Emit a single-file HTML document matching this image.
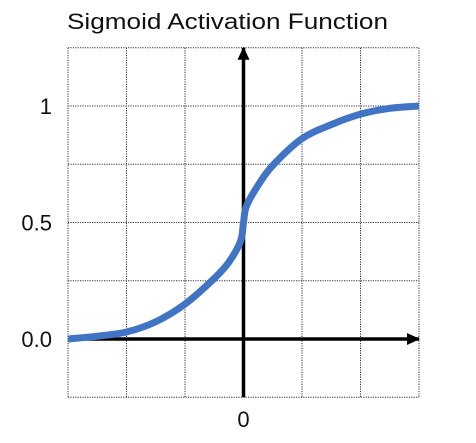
<!DOCTYPE html>
<html><head><meta charset="utf-8"><style>
html,body{margin:0;padding:0;background:#fff;width:476px;height:443px;overflow:hidden}
svg{display:block;font-family:"Liberation Sans",sans-serif}
</style></head><body>
<svg id="chart" width="476" height="443" viewBox="0 0 476 443">
<defs>
<marker id="ah2" markerWidth="14" markerHeight="14" refX="12" refY="6" orient="auto" markerUnits="userSpaceOnUse"><path d="M0,0 L13,6 L0,12 z" fill="#000"/></marker></defs>
<text x="67" y="29" font-size="22" textLength="321" lengthAdjust="spacingAndGlyphs" fill="#111">Sigmoid Activation Function</text>
<g id="grid"></g>
<g id="labels"></g>
<g id="axes"></g>
<path id="curve" fill="none" stroke="#4174C4" stroke-width="7" stroke-linecap="butt" stroke-linejoin="round"/>
</svg>
<script>
const xVals=[-3,-2.5,-2,-1.5,-1,-0.5,-0.25,-0.05,0,0.05,0.25,0.5,1,1.5,2,2.5,3];
const yVals=[0,0.012,0.03,0.074,0.15,0.26,0.33,0.42,0.5,0.57,0.66,0.745,0.86,0.92,0.965,0.99,1.0];
const xTicks=[-3,-2,-1,0,1,2,3];
const yTicks=[-0.25,0,0.25,0.5,0.75,1,1.25];
const yLabelVals=[0,0.5,1];
const yLabelText=["0.0","0.5","1"];
const xLabelVals=[0];
const xLabelText=["0"];
const X0=68,X1=419,Y0=339,Y1=106;
const sx=v=>X0+(v+3)/6*(X1-X0);
const sy=v=>Y0-v*(Y0-Y1);
const NS="http://www.w3.org/2000/svg";
const g=document.getElementById('grid');
xTicks.forEach(t=>{const l=document.createElementNS(NS,'line');


l.setAttribute('x1',sx(t));l.setAttribute('x2',sx(t));l.setAttribute('y1',sy(1.25));l.setAttribute('y2',sy(-0.25));
l.setAttribute('stroke','#333');l.setAttribute('stroke-width','1');l.setAttribute('stroke-dasharray','1.2,1.2');g.appendChild(l);});
yTicks.forEach(t=>{const l=document.createElementNS(NS,'line');


l.setAttribute('y1',sy(t));l.setAttribute('y2',sy(t));l.setAttribute('x1',sx(-3));l.setAttribute('x2',sx(3));
l.setAttribute('stroke','#333');l.setAttribute('stroke-width','1');l.setAttribute('stroke-dasharray','1.2,1.2');g.appendChild(l);});
const lb=document.getElementById('labels');
yLabelVals.forEach((v,i)=>{const t=document.createElementNS(NS,'text');


t.setAttribute('x',52);t.setAttribute('y',sy(v)+8);t.setAttribute('text-anchor','end');t.setAttribute('font-size','22');t.setAttribute('fill','#111');
t.textContent=yLabelText[i];lb.appendChild(t);});
xLabelVals.forEach((v,i)=>{const t=document.createElementNS(NS,'text');


t.setAttribute('x',sx(v));t.setAttribute('y',427);t.setAttribute('text-anchor','middle');t.setAttribute('font-size','22');t.setAttribute('fill','#111');
t.textContent=xLabelText[i];lb.appendChild(t);});
const ax=document.getElementById('axes');
const xa=document.createElementNS(NS,'line');


xa.setAttribute('x1',sx(-3));xa.setAttribute('x2',sx(3));xa.setAttribute('y1',sy(0));xa.setAttribute('y2',sy(0));
xa.setAttribute('stroke','#000');xa.setAttribute('stroke-width','3.5');xa.setAttribute('marker-end','url(#ah2)');ax.appendChild(xa);
const ya=document.createElementNS(NS,'line');


ya.setAttribute('x1',sx(0));ya.setAttribute('x2',sx(0));ya.setAttribute('y1',sy(-0.25));ya.setAttribute('y2',sy(1.25));
ya.setAttribute('stroke','#000');ya.setAttribute('stroke-width','3.5');ya.setAttribute('marker-end','url(#ah2)');ax.appendChild(ya);
const P=xVals.map((x,i)=>[sx(x),sy(yVals[i])]);
let d='M'+P[0][0]+','+P[0][1];
for(let i=0;i<P.length-1;i++){const p0=P[Math.max(0,i-1)],p1=P[i],p2=P[i+1],p3=P[Math.min(P.length-1,i+2)];
const c1=[p1[0]+(p2[0]-p0[0])/6,p1[1]+(p2[1]-p0[1])/6],c2=[p2[0]-(p3[0]-p1[0])/6,p2[1]-(p3[1]-p1[1])/6];
d+=' C'+c1+' '+c2+' '+p2;}
document.getElementById('curve').setAttribute('d',d);
</script>
</body></html>
